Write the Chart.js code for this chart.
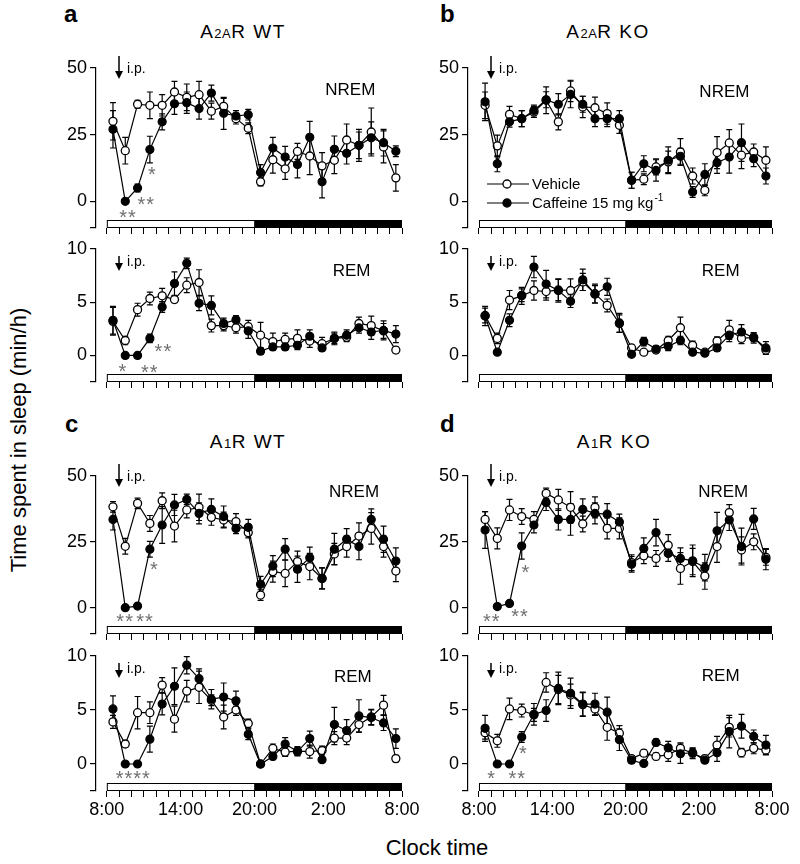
<!DOCTYPE html>
<html>
<head>
<meta charset="utf-8">
<script src="https://cdn.jsdelivr.net/npm/chart.js@4.4.1/dist/chart.umd.min.js"></script>
<style>
body { margin: 0; background: #fff; width: 800px; height: 864px; position: relative; overflow: hidden;
  font-family: "Liberation Sans", Arial, Helvetica, sans-serif; color: #000; }
canvas { position: absolute; }
.letter { position: absolute; font-weight: bold; font-size: 24px; line-height: 1; }
.title { position: absolute; font-size: 19px; line-height: 1; transform: translate(-50%, -50%); letter-spacing: 1.5px; white-space: nowrap; }
.title small { font-size: 13px; letter-spacing: 0.5px; }
.axtitle { position: absolute; font-size: 22px; line-height: 1; white-space: nowrap; }
</style>
</head>
<body>
<div class="letter" style="left:64px;top:2px">a</div>
<div class="letter" style="left:440px;top:2px">b</div>
<div class="letter" style="left:65px;top:412px">c</div>
<div class="letter" style="left:440px;top:412px">d</div>
<div class="title" style="left:243px;top:31px">A<small>2A</small>R WT</div>
<div class="title" style="left:608px;top:31px">A<small>2A</small>R KO</div>
<div class="title" style="left:248px;top:441px">A<small>1</small>R WT</div>
<div class="title" style="left:614px;top:441px">A<small>1</small>R KO</div>
<div class="axtitle" style="left:19px;top:440px;transform:translate(-50%,-50%) rotate(-90deg)">Time spent in sleep (min/h)</div>
<div class="axtitle" style="left:437px;top:848px;transform:translate(-50%,-50%)">Clock time</div>

<script>
// hourly bins 8:00 -> 8:00, points drawn at mid-hour
const hours = [0.5, 1.5, 2.5, 3.5, 4.5, 5.5, 6.5, 7.5, 8.5, 9.5, 10.5, 11.5,
  12.5, 13.5, 14.5, 15.5, 16.5, 17.5, 18.5, 19.5, 20.5, 21.5, 22.5, 23.5];
const hourTicks = [0, 1, 2, 3, 4, 5, 6, 7, 8, 9, 10, 11, 12, 13, 14, 15, 16, 17, 18, 19, 20, 21, 22, 23, 24];
const timeTickPos = [0, 6, 12, 18, 24];
const timeTickLabels = ['8:00', '14:00', '20:00', '2:00', '8:00'];
const nremTicks = [-10, 0, 25, 50];
const remTicks = [-2.5, 0, 5, 10];

// a: A2AR WT
const aNremVeh = [30, 19, 36.4, 36, 36, 41, 39, 40, 33.8, 35.6, 31, 27.4, 7.3, 15.6, 12.2, 18.7, 17, 13.3, 15.4, 23, 21, 26, 20.4, 8.8];
const aNremVehErr = [7, 5, 1.5, 5, 4, 4, 5, 5, 3, 3, 2, 2, 1.5, 5, 4, 3, 7, 5, 5, 6, 5, 9, 6, 5];
const aNremCaf = [27, 0, 5, 19.4, 29.8, 36.6, 37, 34.8, 40.6, 33, 32, 32.5, 10.8, 20, 16.6, 13.8, 24, 7.3, 19.5, 18, 21, 23.8, 22, 18.8];
const aNremCafErr = [7, 0, 1.5, 5, 3, 4, 4, 4, 3, 6, 2, 2, 3, 4, 4, 5, 6, 6, 5, 4, 6, 6, 5, 2];
const aRemVeh = [3.2, 1.4, 4.3, 5.35, 5.6, 5.25, 6.6, 6.85, 2.8, 2.8, 2.6, 2.7, 1.9, 1.3, 1.5, 1.6, 1.35, 1.1, 1.6, 1.7, 3.0, 2.8, 2.3, 0.5];
const aRemVehErr = [1.3, 0.4, 0.6, 0.6, 0.7, 0.3, 0.7, 1.2, 0.6, 0.5, 0.5, 0.6, 1.2, 0.8, 0.6, 0.8, 0.6, 0.6, 0.6, 0.4, 0.6, 0.9, 0.7, 0.3];
const aRemCaf = [3.3, 0, 0, 1.6, 4.55, 6.75, 8.65, 4.9, 4.7, 3.0, 3.35, 2.3, 0.4, 0.8, 0.8, 0.95, 1.8, 0.7, 1.6, 1.9, 2.6, 2.2, 2.35, 2.0];
const aRemCafErr = [1.3, 0, 0, 0.4, 0.5, 1.1, 0.5, 0.7, 0.9, 0.5, 0.4, 0.7, 0.3, 0.3, 0.3, 0.4, 0.6, 0.3, 0.5, 0.5, 0.5, 0.7, 0.9, 0.8];

// b: A2AR KO
const bNremVeh = [36, 20.8, 32.6, 31, 33.5, 37.9, 29.8, 41.4, 35.4, 35.1, 32.9, 28.5, 7.9, 8.3, 12.9, 14.8, 18.5, 9.5, 4.1, 18.3, 21.9, 17.3, 18.5, 15.4];
const bNremVehErr = [5, 4, 3, 3, 2, 5, 3, 4, 4, 4, 4, 3, 3, 2, 3, 4, 5, 3, 2, 6, 5, 5, 3, 5];
const bNremCaf = [37.3, 14.1, 29.8, 31, 34.1, 38.1, 36.4, 40.1, 36.4, 31, 31, 31, 7.9, 14.1, 11.6, 15.4, 16.9, 3.5, 10.1, 14.5, 16.6, 22, 16, 9.5];
const bNremCafErr = [7, 3, 2, 3, 2, 3, 4, 5, 3, 3, 3, 3, 3, 3, 4, 5, 3, 2, 4, 4, 6, 7, 3, 3];
const bRemVeh = [3.75, 1.6, 5.2, 5.6, 6.1, 6.0, 6.15, 6.1, 6.9, 5.8, 4.7, 3.0, 0.7, 0.3, 0.5, 1.4, 2.6, 0.95, 0.3, 1.35, 2.4, 1.6, 1.7, 0.5];
const bRemVehErr = [0.7, 0.5, 0.9, 0.8, 0.9, 0.8, 1.0, 1.1, 0.8, 0.9, 0.6, 0.8, 0.3, 0.2, 0.3, 0.4, 1.0, 0.4, 0.2, 0.4, 0.9, 0.5, 0.4, 0.3];
const bRemCaf = [3.7, 0.3, 3.3, 5.65, 8.3, 6.7, 6.1, 5.1, 7.1, 5.75, 6.45, 3.05, 0.1, 1.3, 0.6, 0.85, 1.4, 0.3, 0.2, 0.7, 1.9, 2.2, 1.65, 0.7];
const bRemCafErr = [0.9, 0.2, 0.6, 0.6, 1.0, 1.3, 1.1, 0.6, 1.0, 0.8, 0.8, 0.9, 0.2, 0.4, 0.3, 0.4, 0.4, 0.2, 0.2, 0.3, 0.6, 0.7, 0.5, 0.6];

// c: A1R WT
const cNremVeh = [38.3, 23.3, 39.6, 32, 40.6, 31, 37.1, 38.1, 34.3, 33.3, 32.7, 28.5, 4.8, 13.7, 13, 17.5, 15.6, 11.1, 20.4, 23.2, 27.2, 30.1, 23.2, 13.9];
const cNremVehErr = [2, 3, 2, 3, 3, 6, 3, 5, 3, 3, 3, 2, 2, 4, 5, 4, 5, 4, 4, 4, 5, 6, 4, 4];
const cNremCaf = [33.5, 0, 0.6, 22.2, 31.4, 39, 41.1, 35.8, 37.3, 34.6, 30.1, 30.5, 8.9, 15.8, 22.2, 14.6, 19, 11.1, 22.2, 26, 23.2, 33.5, 26, 17.7];
const cNremCafErr = [4, 0, 0.5, 3, 7, 4, 2, 4, 4, 4, 2, 3, 3, 4, 4, 5, 4, 4, 6, 4, 5, 4, 5, 5];
const cRemVeh = [3.9, 1.85, 4.75, 4.75, 7.3, 4.15, 6.75, 7.1, 5.9, 4.35, 5.0, 3.75, 0, 1.45, 1.1, 1.2, 1.15, 1.25, 2.4, 2.4, 3.65, 4.35, 5.45, 0.5];
const cRemVehErr = [0.6, 0.3, 1.5, 1.0, 0.7, 1.2, 1.0, 1.5, 0.5, 1.1, 0.5, 0.4, 0.2, 0.4, 0.4, 0.4, 0.6, 0.4, 0.6, 0.6, 0.7, 0.7, 0.9, 0.3];
const cRemCaf = [5.1, 0, 0, 2.3, 5.55, 7.2, 9.15, 7.9, 6.0, 6.2, 5.85, 2.75, 0, 0.7, 1.85, 1.15, 2.35, 0.4, 3.65, 3.1, 4.45, 4.3, 3.8, 2.35];
const cRemCafErr = [1.2, 0, 0, 1.2, 1.0, 1.7, 0.8, 0.9, 0.9, 1.3, 0.9, 0.5, 0.1, 0.3, 0.6, 0.4, 0.7, 0.2, 1.6, 1.0, 1.5, 0.7, 0.7, 0.9];

// d: A1R KO
const dNremVeh = [33.5, 26.3, 37.1, 34.6, 33.5, 43.4, 40.9, 38.1, 31.8, 38.1, 30.1, 30.1, 17.1, 19.7, 18.7, 23.7, 14.9, 17.5, 12, 23.2, 36.1, 21.9, 25, 19.1];
const dNremVehErr = [3, 4, 4, 3, 3, 2, 4, 6, 3, 4, 4, 4, 3, 3, 3, 4, 6, 5, 5, 6, 3, 5, 3, 3];
const dNremCaf = [29.5, 0.4, 1.6, 23.4, 31.4, 39.9, 33.5, 33.5, 37.3, 35.8, 35.5, 32.5, 16.5, 22.5, 28.5, 20.6, 18.7, 17.8, 15.2, 29.2, 33.3, 23.2, 33.7, 18.4];
const dNremCafErr = [7, 0, 0.5, 5, 3, 3, 4, 6, 4, 4, 4, 3, 3, 4, 5, 3, 4, 6, 5, 7, 4, 7, 4, 4];
const dRemVeh = [2.9, 2.15, 5.1, 4.95, 4.55, 7.55, 6.9, 6.4, 5.5, 5.1, 3.4, 2.85, 0.5, 1.0, 0.7, 0.85, 1.45, 1.0, 0.5, 1.75, 3.4, 1.05, 1.45, 1.3];
const dRemVehErr = [0.6, 0.6, 1.0, 0.6, 0.6, 0.9, 1.3, 1.0, 1.1, 0.6, 1.2, 0.7, 0.2, 0.3, 0.3, 0.6, 0.5, 0.5, 0.3, 0.8, 0.9, 0.4, 0.5, 0.4];
const dRemCaf = [3.3, 0, 0, 2.5, 4.6, 4.95, 7.0, 6.55, 5.55, 5.55, 4.8, 2.25, 0.35, 0.05, 2.0, 1.5, 0.95, 1.05, 0.35, 1.05, 3.0, 3.5, 2.55, 1.75];
const dRemCafErr = [1.2, 0, 0, 0.5, 1.0, 1.0, 1.5, 1.4, 1.1, 1.0, 1.4, 1.0, 0.3, 0.2, 0.3, 0.6, 0.9, 0.4, 0.3, 0.8, 1.5, 1.1, 0.6, 0.9];

// significance marks (hour, value, text)
const aNremStars = [[1.73, -4.5, '**'], [3.2, 0.4, '**'], [3.7, 11.6, '*']];
const aRemStars = [[1.3, -1.1, '*'], [4.6, 0.73, '**'], [3.5, -1.23, '**']];
const cNremStars = [[1.49, -3.9, '**'], [3.1, -3.9, '**'], [3.87, 16.2, '*']];
const cRemStars = [[2.15, -1.0, '****']];
const dNremStars = [[1.04, -3.9, '**'], [3.36, -2, '**'], [3.85, 14.7, '*']];
const dRemStars = [[1.04, -1.0, '*'], [3.14, -1.0, '**'], [3.63, 1.3, '*']];

Chart.defaults.font.family = '"Liberation Sans", Arial, Helvetica, sans-serif';
Chart.defaults.color = '#000';

const cols = [
  { axisX: 96, right: 401.5, xmin: -0.88 },
  { axisX: 468, right: 771.7, xmin: -0.9 }
];

const panels = [
  { col: 0, top: 68, h: 160, kind: 'N', veh: aNremVeh, vehErr: aNremVehErr, caf: aNremCaf, cafErr: aNremCafErr, stars: aNremStars, stage: [19.8, 42] },
  { col: 0, top: 249, h: 133, kind: 'R', veh: aRemVeh, vehErr: aRemVehErr, caf: aRemCaf, cafErr: aRemCafErr, stars: aRemStars, stage: [19.9, 8.0] },
  { col: 1, top: 68, h: 160, kind: 'N', veh: bNremVeh, vehErr: bNremVehErr, caf: bNremCaf, cafErr: bNremCafErr, stars: [], stage: [20.1, 41.3], legend: true },
  { col: 1, top: 249, h: 133, kind: 'R', veh: bRemVeh, vehErr: bRemVehErr, caf: bRemCaf, cafErr: bRemCafErr, stars: [], stage: [19.8, 8.0] },
  { col: 0, top: 476, h: 158, kind: 'N', veh: cNremVeh, vehErr: cNremVehErr, caf: cNremCaf, cafErr: cNremCafErr, stars: cNremStars, stage: [20.1, 44] },
  { col: 0, top: 656, h: 135, kind: 'R', veh: cRemVeh, vehErr: cRemVehErr, caf: cRemCaf, cafErr: cRemCafErr, stars: cRemStars, stage: [20, 8.15], xlab: true },
  { col: 1, top: 476, h: 158, kind: 'N', veh: dNremVeh, vehErr: dNremVehErr, caf: dNremCaf, cafErr: dNremCafErr, stars: dNremStars, stage: [20, 44] },
  { col: 1, top: 656, h: 135, kind: 'R', veh: dRemVeh, vehErr: dRemVehErr, caf: dRemCaf, cafErr: dRemCafErr, stars: dRemStars, stage: [19.8, 8.2], xlab: true }
];

function deco(p) {
  const isN = p.kind === 'N';
  return {
    id: 'deco',
    beforeDatasetsDraw(chart) {
      const ctx = chart.ctx, ca = chart.chartArea;
      const xs = chart.scales.x, ys = chart.scales.y;
      ctx.save();
      // light / dark bar
      const x0 = xs.getPixelForValue(0), x12 = xs.getPixelForValue(12), x24 = xs.getPixelForValue(24);
      const bb = ca.bottom, bt = ca.bottom - 8;
      ctx.lineWidth = 1;
      ctx.strokeStyle = '#000';
      ctx.fillStyle = '#fff';
      ctx.fillRect(x0, bt, x12 - x0, bb - bt);
      ctx.strokeRect(x0 + 0.5, bt + 0.5, x12 - x0, bb - bt - 1);
      ctx.fillStyle = '#000';
      ctx.fillRect(x12, bt, x24 - x12, bb - bt);
      // error bars
      ctx.lineWidth = 1.2;
      chart.data.datasets.forEach((ds, i) => {
        const meta = chart.getDatasetMeta(i);
        ds.err.forEach((e, j) => {
          if (!e) return;
          const v = ds.data[j].y;
          const px = meta.data[j].x;
          const hi = ys.getPixelForValue(v + e), lo = ys.getPixelForValue(v - e);
          ctx.beginPath();
          ctx.moveTo(px, hi); ctx.lineTo(px, lo);
          ctx.moveTo(px - 3, hi); ctx.lineTo(px + 3, hi);
          ctx.moveTo(px - 3, lo); ctx.lineTo(px + 3, lo);
          ctx.stroke();
        });
      });
      ctx.restore();
    },
    afterDatasetsDraw(chart) {
      const ctx = chart.ctx, ca = chart.chartArea;
      const xs = chart.scales.x, ys = chart.scales.y;
      ctx.save();
      ctx.fillStyle = '#000';
      ctx.strokeStyle = '#000';
      // stage label
      ctx.font = '17px "Liberation Sans", Arial, sans-serif';
      ctx.textAlign = 'center';
      ctx.textBaseline = 'middle';
      ctx.fillText(isN ? 'NREM' : 'REM', xs.getPixelForValue(p.stage[0]), ys.getPixelForValue(p.stage[1]) + 1);
      // injection arrow
      const ax = Math.round(xs.getPixelForValue(1));
      const t0 = isN ? ca.top - 12 : ca.top + 7;
      const t1 = isN ? ca.top + 11 : ca.top + 22;
      ctx.lineWidth = 1.5;
      ctx.beginPath(); ctx.moveTo(ax, t0); ctx.lineTo(ax, t1 - 6); ctx.stroke();
      ctx.beginPath(); ctx.moveTo(ax - 4, t1 - 8); ctx.lineTo(ax + 4, t1 - 8); ctx.lineTo(ax, t1); ctx.closePath(); ctx.fill();
      ctx.font = '14px "Liberation Sans", Arial, sans-serif';
      ctx.textAlign = 'left';
      ctx.fillText('i.p.', ax + 8, isN ? ca.top + 1 : ca.top + 13);
      // asterisks
      ctx.fillStyle = '#707070';
      ctx.font = '20px "Liberation Sans", Arial, sans-serif';
      ctx.textAlign = 'center';
      ctx.letterSpacing = '1px';
      p.stars.forEach(s => {
        ctx.fillText(s[2], xs.getPixelForValue(s[0]), ys.getPixelForValue(s[1]) + 5);
      });
      ctx.letterSpacing = '0px';
      // legend
      if (p.legend) {
        ctx.fillStyle = '#000';
        ctx.font = '15px "Liberation Sans", Arial, sans-serif';
        ctx.textAlign = 'left';
        chart.data.datasets.slice().reverse().forEach((ds, k) => {
          const ly = ca.top + 116 + k * 19;
          ctx.lineWidth = 1.2;
          ctx.beginPath(); ctx.moveTo(ca.left + 19, ly); ctx.lineTo(ca.left + 61, ly); ctx.stroke();
          ctx.beginPath(); ctx.arc(ca.left + 39, ly, 4, 0, Math.PI * 2);
          ctx.fillStyle = ds.pointBackgroundColor; ctx.fill();
          ctx.lineWidth = 1.3; ctx.stroke();
          ctx.fillStyle = '#000';
          ctx.fillText(ds.label, ca.left + 64, ly + 1);
          if (ds.sup) {
            const w = ctx.measureText(ds.label).width;
            ctx.font = '10px "Liberation Sans", Arial, sans-serif';
            ctx.fillText(ds.sup, ca.left + 65 + w, ly - 5);
            ctx.font = '15px "Liberation Sans", Arial, sans-serif';
          }
        });
      }
      ctx.restore();
    }
  };
}

panels.forEach(p => {
  const col = cols[p.col];
  const isN = p.kind === 'N';
  const left = col.axisX - 40;
  const cv = document.createElement('canvas');
  cv.width = Math.round(col.right + 24 - left);
  cv.height = 20 + p.h + 30;
  cv.style.left = left + 'px';
  cv.style.top = (p.top - 20) + 'px';
  document.body.appendChild(cv);

  const yt = isN ? nremTicks : remTicks;
  new Chart(cv.getContext('2d'), {
    type: 'line',
    data: {
      datasets: [{
        label: 'Caffeine 15 mg kg', sup: '-1',
        data: hours.map((h, i) => ({ x: h, y: p.caf[i] })),
        err: p.cafErr,
        borderColor: '#000', borderWidth: 1.2,
        pointRadius: 4, pointBackgroundColor: '#000', pointBorderColor: '#000', pointBorderWidth: 1.2,
        order: 0, clip: false
      }, {
        label: 'Vehicle',
        data: hours.map((h, i) => ({ x: h, y: p.veh[i] })),
        err: p.vehErr,
        borderColor: '#000', borderWidth: 1.2,
        pointRadius: 4, pointBackgroundColor: '#fff', pointBorderColor: '#000', pointBorderWidth: 1.3,
        order: 1, clip: false
      }]
    },
    options: {
      responsive: false,
      animation: false,
      devicePixelRatio: 1,
      layout: { padding: { top: 20, right: 24, left: 0, bottom: 0 } },
      plugins: { legend: { display: false }, tooltip: { enabled: false } },
      scales: {
        x: {
          type: 'linear', min: col.xmin, max: 24,
          afterBuildTicks: s => { s.ticks = hourTicks.map(v => ({ value: v })); },
          afterFit: s => { s.height = 30; },
          grid: { drawOnChartArea: false, drawTicks: true, tickLength: 6, color: '#000', lineWidth: 1 },
          border: { display: false },
          ticks: {
            display: !!p.xlab, autoSkip: false, maxRotation: 0, minRotation: 0, padding: 2,
            font: { size: 18 }, color: '#000',
            callback: v => { const k = timeTickPos.indexOf(v); return k >= 0 ? timeTickLabels[k] : ''; }
          }
        },
        y: {
          min: yt[0], max: yt[yt.length - 1],
          afterBuildTicks: s => { s.ticks = yt.map(v => ({ value: v })); },
          afterFit: s => { s.width = 40; },
          grid: { drawOnChartArea: false, drawTicks: true, tickLength: 6, color: '#000', lineWidth: 1.2 },
          border: { display: true, color: '#000', width: 1.2 },
          ticks: { padding: 3, font: { size: 18 }, color: '#000', callback: v => v < 0 ? '' : v }
        }
      }
    },
    plugins: [deco(p)]
  });
});
</script>
</body>
</html>
